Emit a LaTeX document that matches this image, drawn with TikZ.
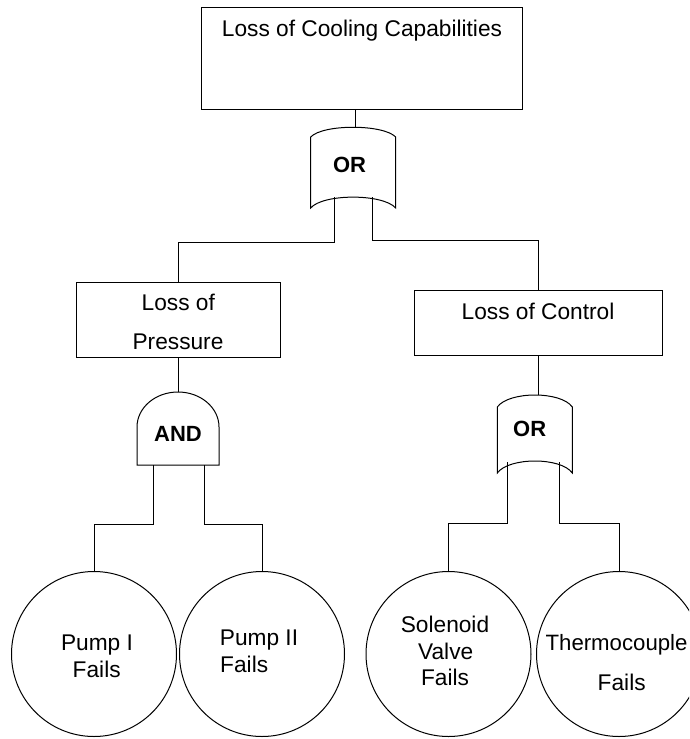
\documentclass[tikz,border=0pt]{standalone}
\usepackage{fontspec}
\setmainfont{Liberation Sans}
\begin{document}
\begin{tikzpicture}[x=1pt,y=-1pt,line width=1pt,
  box/.style={draw,rectangle,inner sep=0pt},
  event/.style={draw,circle,inner sep=0pt,minimum size=165pt},
  lbl/.style={anchor=base,inner sep=0pt,font=\fontsize{22.7}{26}\selectfont},
  glbl/.style={anchor=base,inner sep=0pt,font=\fontsize{22}{26}\selectfont\bfseries},
  gate/.style={draw,line join=miter}]
\useasboundingbox (0,0) rectangle (689,739);
\clip (0,0) rectangle (689,739);

% event boxes
\node[box,minimum width=321pt,minimum height=102pt] (top) at (361.5,58) {};
\node[lbl] (toptxt) at (362,36) {Loss of Cooling Capabilities};
\node[box,minimum width=204pt,minimum height=75pt] (lp) at (178,319.5) {};
\node[lbl] (lptxt1) at (178.3,310.7) {Loss of};
\node[lbl] (lptxt2) at (178,349) {Pressure};
\node[box,minimum width=248pt,minimum height=65pt] (lc) at (538,322.5) {};
\node[lbl] (lctxt) at (538,319) {Loss of Control};

% OR gate 1
\draw[gate] (310.7,208) -- (310.7,137) .. controls (323,124) and (383,124) .. (395.7,137)
  -- (395.7,208) .. controls (383,193.5) and (323,193.5) .. cycle;
\node[glbl] (or1) at (349.5,172.7) {OR};
\coordinate (g1in) at (355.7,127);
\coordinate (g1l) at (334,197);
\coordinate (g1r) at (372.7,197);

% AND gate
\draw[gate] (137,465) -- (137,427) arc[start angle=180,end angle=0,x radius=41pt,y radius=35pt]
  -- (219,465) -- cycle;
\node[glbl] (and1) at (178,441.7) {AND};
\coordinate (ain) at (178,392);
\coordinate (al) at (153,465);
\coordinate (ar) at (204,465);

% OR gate 2
\draw[gate] (497.3,473) -- (497.3,407) .. controls (509,391) and (561,391) .. (572.3,407)
  -- (572.3,473) .. controls (561,457) and (509,457) .. cycle;
\node[glbl] (or2) at (529.7,436) {OR};
\coordinate (o2in) at (538,395);
\coordinate (o2l) at (507.3,462);
\coordinate (o2r) at (559.3,462);

% basic events
\node[event] (p1) at (94,654) {};
\node[lbl] (p1a) at (97,650.7) {Pump I};
\node[lbl] (p1b) at (96.7,677) {Fails};
\node[event] (p2) at (262,654) {};
\node[lbl] (p2a) at (259,645.7) {Pump II};
\node[lbl] (p2b) at (244.2,672) {Fails};
\node[event] (sv) at (448.5,654) {};
\node[lbl] (sva) at (445,632.7) {Solenoid};
\node[lbl] (svb) at (445.7,659) {Valve};
\node[lbl] (svc) at (445,685.7) {Fails};
\node[event] (tc) at (619,654) {};
\node[lbl,anchor=base east,font=\fontsize{22.2}{26}\selectfont] (tca) at (688,650.7) {Thermocouple};
\node[lbl] (tcb) at (621.7,690.7) {Fails};

% connectors
\draw (g1in |- top.south) -- (g1in);
\draw (g1l) -- ++(0,45) -| (lp.north);
\draw (g1r) -- ++(0,43) -| (lc.north);
\draw (lp.south) -- (ain);
\draw (lc.south) -- (o2in);
\draw (al) -- ++(0,59) -| (p1.north);
\draw (ar) -- ++(0,59) -| (p2.north);
\draw (o2l) -- ++(0,61) -| (sv.north);
\draw (o2r) -- ++(0,61) -| (tc.north);
\end{tikzpicture}
\end{document}
